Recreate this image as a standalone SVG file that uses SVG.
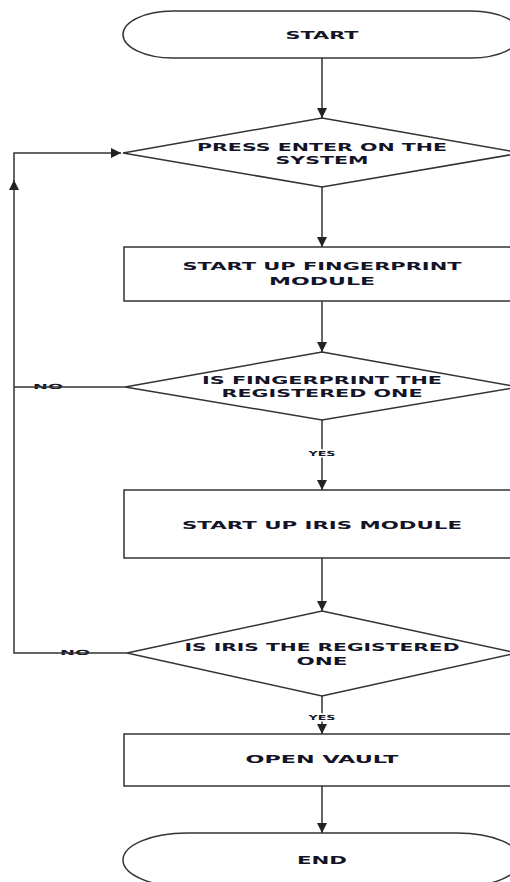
<svg xmlns="http://www.w3.org/2000/svg" width="510" height="882" viewBox="0 0 510 882">
<defs>
<marker id="ah" viewBox="0 0 10 10" refX="10" refY="5" markerWidth="10" markerHeight="10" markerUnits="userSpaceOnUse" orient="auto">
<path d="M0,0 L10,5 L0,10 Z" fill="#222"/>
</marker>
<style>
.shape{fill:#fff;stroke:#333;stroke-width:1.5}
.conn{fill:none;stroke:#333;stroke-width:1.5}
.t{font-family:"DejaVu Sans","Liberation Sans",sans-serif;font-weight:bold;font-size:10.5px;fill:#141428;text-anchor:middle}
.s{font-family:"DejaVu Sans","Liberation Sans",sans-serif;font-weight:bold;font-size:7px;fill:#141428;text-anchor:middle}
</style>
</defs>
<rect width="510" height="882" fill="#fff"/>
<g id="labels-no">
<text class="s" x="48" y="389" textLength="30" lengthAdjust="spacingAndGlyphs">NO</text>
<text class="s" x="75" y="655" textLength="30" lengthAdjust="spacingAndGlyphs">NO</text>
</g>
<g id="connectors">
<path class="conn" d="M322,58 V118" marker-end="url(#ah)"/>
<path class="conn" d="M322,187 V247" marker-end="url(#ah)"/>
<path class="conn" d="M322,301 V352" marker-end="url(#ah)"/>
<path class="conn" d="M322,420 V490" marker-end="url(#ah)"/>
<path class="conn" d="M322,558 V611" marker-end="url(#ah)"/>
<path class="conn" d="M322,696 V734" marker-end="url(#ah)"/>
<path class="conn" d="M322,786 V833" marker-end="url(#ah)"/>
<path class="conn" d="M127,653 H14 V180" marker-end="url(#ah)"/>
<path class="conn" d="M14,182 V153 H121" marker-end="url(#ah)"/>
<path class="conn" d="M125,387 H14"/>
<text class="s" x="322" y="455.5" textLength="27" lengthAdjust="spacingAndGlyphs" stroke="#fff" stroke-width="3" paint-order="stroke">YES</text>
<text class="s" x="322" y="719.5" textLength="27" lengthAdjust="spacingAndGlyphs" stroke="#fff" stroke-width="3" paint-order="stroke">YES</text>
</g>
<g id="start">
<rect class="shape" x="123" y="11" width="398" height="47" rx="50" ry="23.5"/>
<text class="t" x="322" y="39" textLength="73" lengthAdjust="spacingAndGlyphs">START</text>
</g>
<g id="press-enter">
<polygon class="shape" points="322,118 521,153 322,187 123,153"/>
<text class="t" x="322" y="151" textLength="250" lengthAdjust="spacingAndGlyphs">PRESS ENTER ON THE</text>
<text class="t" x="322" y="164" textLength="93" lengthAdjust="spacingAndGlyphs">SYSTEM</text>
</g>
<g id="fingerprint-module">
<rect class="shape" x="124" y="247" width="396" height="54"/>
<text class="t" x="322" y="270" textLength="279" lengthAdjust="spacingAndGlyphs">START UP FINGERPRINT</text>
<text class="t" x="322" y="285" textLength="106" lengthAdjust="spacingAndGlyphs">MODULE</text>
</g>
<g id="fingerprint-check">
<polygon class="shape" points="322,352 519,387 322,420 125,387"/>
<text class="t" x="322" y="384" textLength="240" lengthAdjust="spacingAndGlyphs">IS FINGERPRINT THE</text>
<text class="t" x="322" y="397" textLength="201" lengthAdjust="spacingAndGlyphs">REGISTERED ONE</text>
</g>
<g id="iris-module">
<rect class="shape" x="124" y="490" width="396" height="68"/>
<text class="t" x="322" y="529" textLength="280" lengthAdjust="spacingAndGlyphs">START UP IRIS MODULE</text>
</g>
<g id="iris-check">
<polygon class="shape" points="322,611 517,653 322,696 127,653"/>
<text class="t" x="322" y="651" textLength="275" lengthAdjust="spacingAndGlyphs">IS IRIS THE REGISTERED</text>
<text class="t" x="322" y="665" textLength="51" lengthAdjust="spacingAndGlyphs">ONE</text>
</g>
<g id="open-vault">
<rect class="shape" x="124" y="734" width="396" height="52"/>
<text class="t" x="322" y="763" textLength="153" lengthAdjust="spacingAndGlyphs">OPEN VAULT</text>
</g>
<g id="end">
<rect class="shape" x="123" y="833" width="398" height="54" rx="64" ry="27"/>
<text class="t" x="322" y="864" textLength="50" lengthAdjust="spacingAndGlyphs">END</text>
</g>
</svg>
